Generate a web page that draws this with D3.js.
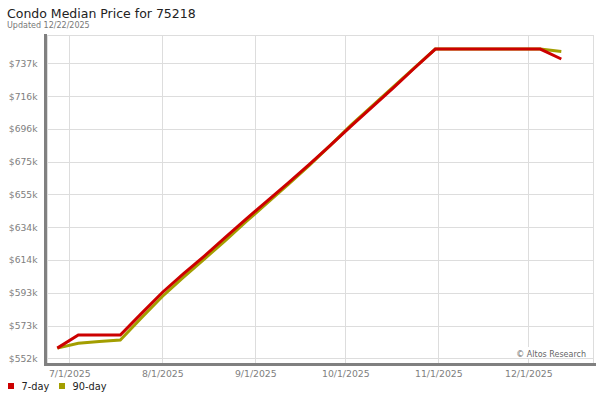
<!DOCTYPE html>
<html><head><meta charset="utf-8">
<script src="https://cdn.jsdelivr.net/npm/d3@7"></script>
<style>
html,body{margin:0;padding:0;background:#fff;}
svg{display:block;font-family:"DejaVu Sans",Verdana,sans-serif;}
</style></head>
<body>
<svg id="chart" width="600" height="400"></svg>
<script>
// ---- data ----
const dates = ["2025-06-27","2025-07-04","2025-07-11","2025-07-18","2025-07-25","2025-08-01","2025-08-08","2025-08-15","2025-08-22","2025-08-29","2025-09-05","2025-09-12","2025-09-19","2025-09-26","2025-10-03","2025-10-10","2025-10-17","2025-10-24","2025-10-31","2025-11-07","2025-11-14","2025-11-21","2025-11-28","2025-12-05","2025-12-12"];
const sevenDay = [558.8,567.0,567.0,567.0,580.4,593.6,605.2,616.4,628.0,639.6,650.9,662.1,673.7,685.6,697.8,709.7,721.6,733.8,745.8,745.8,745.8,745.8,745.8,745.8,739.6];
const ninetyDay = [558.8,561.8,562.9,563.9,577.6,591.1,603.0,614.5,626.1,638.0,649.6,661.2,673.1,685.6,698.4,710.3,722.2,734.1,745.8,745.8,745.8,745.8,745.8,745.8,744.3];
const yTickValues = [552.4,572.9,593.4,613.9,634.4,654.9,675.4,695.9,716.4,736.9];
const yTickLabels = ["$552k","$573k","$593k","$614k","$634k","$655k","$675k","$696k","$716k","$737k"];
const xTickDates = ["2025-07-01","2025-08-01","2025-09-01","2025-10-01","2025-11-01","2025-12-01"];
const xTickLabels = ["7/1/2025","8/1/2025","9/1/2025","10/1/2025","11/1/2025","12/1/2025"];
const seriesNames = ["7-day","90-day"];
const seriesColors = ["#cc0000","#a39e00"];

const parse = d3.utcParse("%Y-%m-%d");
const svg = d3.select("#chart");

const pL = 47, pR = 593, pT = 35, pB = 363;
const x = d3.scaleUtc().domain([parse("2025-06-23"), parse("2025-12-22")]).range([45.3, 591.3]);
const y = d3.scaleLinear().domain([549.2, 754.6]).range([363.5, 35]);

// frame
svg.append("rect").attr("x", pL).attr("y", pT).attr("width", pR-pL).attr("height", pB-pT)
  .attr("fill", "#fff").attr("stroke", "#dddddd").attr("shape-rendering","crispEdges");

// horizontal gridlines via axis
const yAxis = d3.axisLeft(y).tickValues(yTickValues).tickSize(-(pR-pL)).tickPadding(9)
  .tickFormat((d,i)=>yTickLabels[i]);
const gy = svg.append("g").attr("transform", `translate(${pL},0)`).call(yAxis);
gy.select(".domain").remove();
gy.selectAll(".tick line").attr("stroke","#dddddd").attr("shape-rendering","crispEdges");
gy.selectAll(".tick text").attr("fill","#808080").attr("font-size","9.2px")
  .attr("font-family","'DejaVu Sans',sans-serif").attr("x", -9.5);

// vertical gridlines via axis
const xAxis = d3.axisBottom(x).tickValues(xTickDates.map(parse)).tickSize(-(pB-pT)).tickPadding(6)
  .tickFormat((d,i)=>xTickLabels[i]);
const gx = svg.append("g").attr("transform", `translate(0,${pB})`).call(xAxis);
gx.select(".domain").remove();
gx.selectAll(".tick line").attr("stroke","#dddddd").attr("shape-rendering","crispEdges");
gx.selectAll(".tick text").attr("fill","#808080").attr("font-size","9.3px")
  .attr("font-family","'DejaVu Sans',sans-serif").attr("y", 7).attr("dy","0.71em");

// copyright
svg.append("rect").attr("x", 514).attr("y", 347).attr("width", 75).attr("height", 11).attr("fill","#fff");
svg.append("text").attr("x", 586).attr("y", 356.5).attr("text-anchor","end")
  .attr("font-size","8px").attr("fill","#666").text("\u00a9 Altos Research");

// thick axes
svg.append("line").attr("x1", 45.5).attr("x2", 45.5).attr("y1", 34).attr("y2", 366)
  .attr("stroke","#808080").attr("stroke-width",3);
svg.append("line").attr("x1", 44).attr("x2", 596).attr("y1", 364.5).attr("y2", 364.5)
  .attr("stroke","#808080").attr("stroke-width",3);

// lines
const parsedDates = dates.map(parse);
const line = d3.line().x((d,i)=>x(parsedDates[i])).y(d=>y(d));
[ninetyDay, sevenDay].forEach((vals, k) => {
  const color = k === 0 ? seriesColors[1] : seriesColors[0];
  svg.append("path").datum(vals).attr("d", line).attr("fill","none")
    .attr("stroke", color).attr("stroke-width", 3).attr("stroke-linejoin","miter");
});

// title
svg.append("text").attr("x", 7).attr("y", 18.3).attr("font-size","12.5px").attr("fill","#222")
  .text("Condo Median Price for 75218");
svg.append("text").attr("x", 7).attr("y", 27.5).attr("font-size","8px").attr("fill","#777")
  .text("Updated 12/22/2025");

// legend
const legendX = [8, 59];
seriesNames.forEach((n,i)=>{
  svg.append("rect").attr("x", legendX[i]).attr("y", 383).attr("width", 6).attr("height", 6).attr("fill", seriesColors[i]);
  svg.append("text").attr("x", legendX[i]+13.5).attr("y", 390).attr("font-size","9.8px").attr("fill","#222").text(n);
});
</script>
</body></html>
